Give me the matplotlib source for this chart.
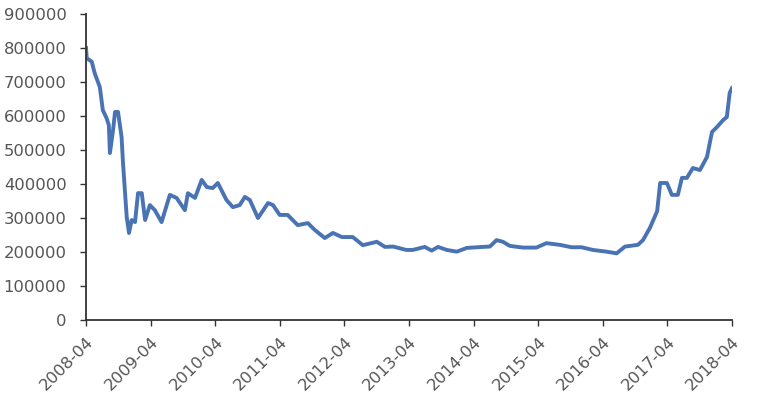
import pandas as pd
import matplotlib
matplotlib.use('Agg')
import matplotlib.pyplot as plt

# values
ngay = ['2008-04-01', '2008-04-05', '2008-05-03', '2008-05-20', '2008-06-18',
        '2008-07-05', '2008-07-26', '2008-08-08', '2008-08-14', '2008-09-01',
        '2008-09-12', '2008-09-29', '2008-10-19', '2008-10-27', '2008-11-17',
        '2008-11-30', '2008-12-15', '2009-01-03', '2009-01-20', '2009-02-10',
        '2009-03-01', '2009-03-28', '2009-04-25', '2009-06-02', '2009-07-19',
        '2009-08-26', '2009-10-12', '2009-10-29', '2009-12-08', '2010-01-15',
        '2010-02-13', '2010-03-18', '2010-04-16', '2010-06-04', '2010-07-10',
        '2010-08-18', '2010-09-16', '2010-10-14', '2010-11-29', '2011-01-25',
        '2011-02-22', '2011-04-01', '2011-05-16', '2011-07-12', '2011-09-07',
        '2011-10-16', '2011-12-12', '2012-01-27', '2012-03-17', '2012-05-18',
        '2012-07-14', '2012-10-01', '2012-11-16', '2013-01-01', '2013-03-17',
        '2013-04-22', '2013-06-29', '2013-08-07', '2013-09-12', '2013-11-01',
        '2013-12-27', '2014-02-22', '2014-05-23', '2014-07-02', '2014-08-09',
        '2014-09-14', '2014-10-23', '2015-01-05', '2015-03-22', '2015-05-18',
        '2015-08-02', '2015-10-07', '2015-12-02', '2016-02-05', '2016-04-22',
        '2016-06-18', '2016-08-04', '2016-10-16', '2016-11-14', '2016-12-23',
        '2017-02-02', '2017-02-19', '2017-03-29', '2017-04-26', '2017-05-30',
        '2017-06-22', '2017-07-20', '2017-08-23', '2017-10-02', '2017-11-11',
        '2017-12-09', '2018-01-07', '2018-02-10', '2018-03-03', '2018-03-19',
        '2018-04-01']
gia_tri = [800000, 770000, 760000, 726000, 685000,
           617000, 594000, 573000, 491000, 559000,
           612000, 612000, 538000, 462000, 303000,
           256000, 294000, 288000, 373000, 373000,
           294000, 338000, 323000, 288000, 368000,
           359000, 323000, 373000, 359000, 412000,
           391000, 388000, 403000, 353000, 332000,
           338000, 362000, 353000, 300000, 344000,
           338000, 309000, 309000, 279000, 285000,
           265000, 241000, 256000, 244000, 244000,
           220000, 230000, 215000, 216000, 206000,
           206000, 215000, 204000, 215000, 206000,
           201000, 212000, 215000, 216000, 235000,
           230000, 218000, 213000, 213000, 226000,
           221000, 214000, 214000, 206000, 201000,
           196000, 216000, 221000, 235000, 271000,
           320000, 403000, 403000, 368000, 368000,
           418000, 418000, 447000, 441000, 480000,
           553000, 568000, 588000, 597000, 668000,
           682000]
nhan_x = ['2008-04', '2009-04', '2010-04', '2011-04', '2012-04', '2013-04',
          '2014-04', '2015-04', '2016-04', '2017-04', '2018-04']

thoigian = pd.to_datetime(ngay)
vi_tri_x = pd.to_datetime([n + '-01' for n in nhan_x])

fig = plt.figure(figsize=(7.62, 4.0), dpi=100)
ax = fig.add_axes([0.1129, 0.2, 0.8477, 0.765])

ax.plot(thoigian, gia_tri, color='#4a73b3', linewidth=2.8, solid_joinstyle='round')

ax.set_xlim(vi_tri_x[0], vi_tri_x[-1])
ax.set_ylim(0, 900000)
ax.set_yticks(range(0, 900001, 100000))
ax.set_yticklabels([str(v) for v in range(0, 900001, 100000)])
ax.set_xticks(vi_tri_x)
ax.set_xticklabels(nhan_x, rotation=45, ha='right', rotation_mode='anchor')

for s in ['top', 'right']:
    ax.spines[s].set_visible(False)
for s in ['left', 'bottom']:
    ax.spines[s].set_color('#333333')
    ax.spines[s].set_linewidth(1.3)

ax.tick_params(axis='both', colors='#333333', labelcolor='#555555',
               labelsize=11.8, length=4, width=1.0)
ax.tick_params(axis='y', pad=10)
ax.tick_params(axis='x', pad=6)

fig.savefig('out.png', dpi=100)
